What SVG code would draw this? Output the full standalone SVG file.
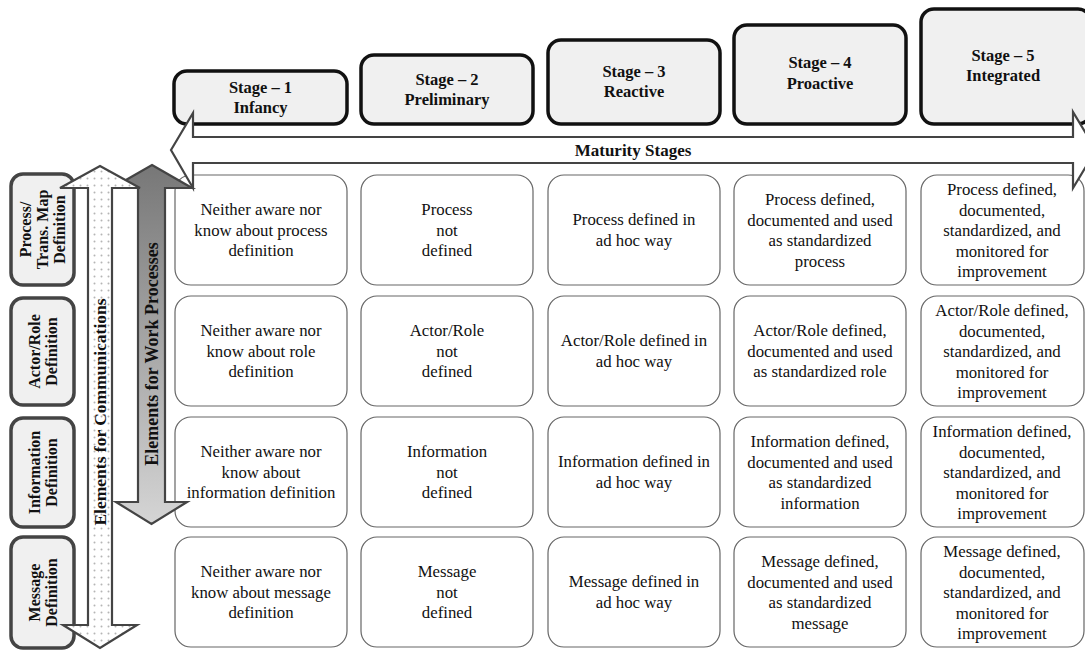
<svg xmlns="http://www.w3.org/2000/svg" width="1085" height="650" viewBox="0 0 1085 650">
<style>
.stage{fill:#f0f0f0;stroke:#111;stroke-width:3.5}
.stt{font-family:'Liberation Serif','DejaVu Serif',serif;font-weight:bold;font-size:16.5px;fill:#111;text-anchor:middle}
.lab{fill:#f0f0f0;stroke:#444;stroke-width:3.5}
.lbt{font-family:'Liberation Serif','DejaVu Serif',serif;font-weight:bold;font-size:16px;fill:#111;text-anchor:middle}
.cell{fill:#fff;stroke:#666;stroke-width:1.2}
.ct{font-family:'Liberation Serif','DejaVu Serif',serif;font-size:16.8px;fill:#111;text-anchor:middle}
.arr{stroke:#444;stroke-width:2.2;stroke-linejoin:miter}
.at{font-family:'Liberation Serif','DejaVu Serif',serif;font-weight:bold;font-size:17.5px;fill:#111;text-anchor:middle}
</style>
<defs>
<pattern id="dots" width="7" height="7" patternUnits="userSpaceOnUse">
<rect width="7" height="7" fill="#fff"/>
<circle cx="3.5" cy="3.5" r="1" fill="#b5b5b5"/>
</pattern>
<linearGradient id="gg" x1="0" y1="0" x2="0" y2="1">
<stop offset="0" stop-color="#777"/>
<stop offset="1" stop-color="#d5d5d5"/>
</linearGradient>
</defs>
<rect width="1085" height="650" fill="#fff"/>

<g id="row-labels">
<g id="lab-process">
<rect class="lab" x="11" y="174" width="63" height="111" rx="12"/>
<text class="lbt" transform="translate(42,229.5) rotate(-90)"><tspan x="0" y="-11.5">Process/</tspan><tspan x="0" y="5.5">Trans. Map</tspan><tspan x="0" y="22.5">Definition</tspan></text>
</g>
<g id="lab-actor">
<rect class="lab" x="11" y="298" width="63" height="107" rx="12"/>
<text class="lbt" transform="translate(43,351.5) rotate(-90)"><tspan x="0" y="-3">Actor/Role</tspan><tspan x="0" y="14">Definition</tspan></text>
</g>
<g id="lab-info">
<rect class="lab" x="11" y="418" width="63" height="109" rx="12"/>
<text class="lbt" transform="translate(43,472.5) rotate(-90)"><tspan x="0" y="-3">Information</tspan><tspan x="0" y="14">Definition</tspan></text>
</g>
<g id="lab-message">
<rect class="lab" x="11" y="537" width="63" height="111" rx="12"/>
<text class="lbt" transform="translate(43,592.5) rotate(-90)"><tspan x="0" y="-3">Message</tspan><tspan x="0" y="14">Definition</tspan></text>
</g>
</g>

<g id="cells">
<g id="c11"><rect class="cell" x="175" y="175" width="172" height="110" rx="16"/>
<text class="ct"><tspan x="261" y="215">Neither aware nor</tspan><tspan x="261" y="235.5">know about process</tspan><tspan x="261" y="256">definition</tspan></text></g>
<g id="c12"><rect class="cell" x="361" y="175" width="172" height="110" rx="16"/>
<text class="ct"><tspan x="447" y="215">Process</tspan><tspan x="447" y="235.5">not</tspan><tspan x="447" y="256">defined</tspan></text></g>
<g id="c13"><rect class="cell" x="548" y="175" width="172" height="110" rx="16"/>
<text class="ct"><tspan x="634" y="225">Process defined in</tspan><tspan x="634" y="245.5">ad hoc way</tspan></text></g>
<g id="c14"><rect class="cell" x="734" y="175" width="172" height="110" rx="16"/>
<text class="ct"><tspan x="820" y="205">Process defined,</tspan><tspan x="820" y="225.5">documented and used</tspan><tspan x="820" y="246">as standardized</tspan><tspan x="820" y="266.5">process</tspan></text></g>
<g id="c15"><rect class="cell" x="921" y="175" width="163" height="110" rx="16"/>
<text class="ct"><tspan x="1002" y="195">Process defined,</tspan><tspan x="1002" y="215.5">documented,</tspan><tspan x="1002" y="236">standardized, and</tspan><tspan x="1002" y="256.5">monitored for</tspan><tspan x="1002" y="277">improvement</tspan></text></g>
<g id="c21"><rect class="cell" x="175" y="296" width="172" height="110" rx="16"/>
<text class="ct"><tspan x="261" y="336">Neither aware nor</tspan><tspan x="261" y="356.5">know about role</tspan><tspan x="261" y="377">definition</tspan></text></g>
<g id="c22"><rect class="cell" x="361" y="296" width="172" height="110" rx="16"/>
<text class="ct"><tspan x="447" y="336">Actor/Role</tspan><tspan x="447" y="356.5">not</tspan><tspan x="447" y="377">defined</tspan></text></g>
<g id="c23"><rect class="cell" x="548" y="296" width="172" height="110" rx="16"/>
<text class="ct"><tspan x="634" y="346">Actor/Role defined in</tspan><tspan x="634" y="366.5">ad hoc way</tspan></text></g>
<g id="c24"><rect class="cell" x="734" y="296" width="172" height="110" rx="16"/>
<text class="ct"><tspan x="820" y="336">Actor/Role defined,</tspan><tspan x="820" y="356.5">documented and used</tspan><tspan x="820" y="377">as standardized role</tspan></text></g>
<g id="c25"><rect class="cell" x="921" y="296" width="163" height="110" rx="16"/>
<text class="ct"><tspan x="1002" y="316">Actor/Role defined,</tspan><tspan x="1002" y="336.5">documented,</tspan><tspan x="1002" y="357">standardized, and</tspan><tspan x="1002" y="377.5">monitored for</tspan><tspan x="1002" y="398">improvement</tspan></text></g>
<g id="c31"><rect class="cell" x="175" y="417" width="172" height="110" rx="16"/>
<text class="ct"><tspan x="261" y="457">Neither aware nor</tspan><tspan x="261" y="477.5">know about</tspan><tspan x="261" y="498">information definition</tspan></text></g>
<g id="c32"><rect class="cell" x="361" y="417" width="172" height="110" rx="16"/>
<text class="ct"><tspan x="447" y="457">Information</tspan><tspan x="447" y="477.5">not</tspan><tspan x="447" y="498">defined</tspan></text></g>
<g id="c33"><rect class="cell" x="548" y="417" width="172" height="110" rx="16"/>
<text class="ct"><tspan x="634" y="467">Information defined in</tspan><tspan x="634" y="487.5">ad hoc way</tspan></text></g>
<g id="c34"><rect class="cell" x="734" y="417" width="172" height="110" rx="16"/>
<text class="ct"><tspan x="820" y="447">Information defined,</tspan><tspan x="820" y="467.5">documented and used</tspan><tspan x="820" y="488">as standardized</tspan><tspan x="820" y="508.5">information</tspan></text></g>
<g id="c35"><rect class="cell" x="921" y="417" width="163" height="110" rx="16"/>
<text class="ct"><tspan x="1002" y="437">Information defined,</tspan><tspan x="1002" y="457.5">documented,</tspan><tspan x="1002" y="478">standardized, and</tspan><tspan x="1002" y="498.5">monitored for</tspan><tspan x="1002" y="519">improvement</tspan></text></g>
<g id="c41"><rect class="cell" x="175" y="537" width="172" height="110" rx="16"/>
<text class="ct"><tspan x="261" y="577">Neither aware nor</tspan><tspan x="261" y="597.5">know about message</tspan><tspan x="261" y="618">definition</tspan></text></g>
<g id="c42"><rect class="cell" x="361" y="537" width="172" height="110" rx="16"/>
<text class="ct"><tspan x="447" y="577">Message</tspan><tspan x="447" y="597.5">not</tspan><tspan x="447" y="618">defined</tspan></text></g>
<g id="c43"><rect class="cell" x="548" y="537" width="172" height="110" rx="16"/>
<text class="ct"><tspan x="634" y="587">Message defined in</tspan><tspan x="634" y="607.5">ad hoc way</tspan></text></g>
<g id="c44"><rect class="cell" x="734" y="537" width="172" height="110" rx="16"/>
<text class="ct"><tspan x="820" y="567">Message defined,</tspan><tspan x="820" y="587.5">documented and used</tspan><tspan x="820" y="608">as standardized</tspan><tspan x="820" y="628.5">message</tspan></text></g>
<g id="c45"><rect class="cell" x="921" y="537" width="163" height="110" rx="16"/>
<text class="ct"><tspan x="1002" y="557">Message defined,</tspan><tspan x="1002" y="577.5">documented,</tspan><tspan x="1002" y="598">standardized, and</tspan><tspan x="1002" y="618.5">monitored for</tspan><tspan x="1002" y="639">improvement</tspan></text></g>
</g>

<g id="stages">
<g id="stage1"><rect class="stage" x="174" y="71" width="173" height="53" rx="13"/>
<text class="stt"><tspan x="260.5" y="93">Stage – 1</tspan><tspan x="260.5" y="113">Infancy</tspan></text></g>
<g id="stage2"><rect class="stage" x="361" y="55" width="172" height="69" rx="13"/>
<text class="stt"><tspan x="447" y="85">Stage – 2</tspan><tspan x="447" y="105">Preliminary</tspan></text></g>
<g id="stage3"><rect class="stage" x="548" y="40" width="172" height="84" rx="13"/>
<text class="stt"><tspan x="634" y="77">Stage – 3</tspan><tspan x="634" y="97">Reactive</tspan></text></g>
<g id="stage4"><rect class="stage" x="734" y="25" width="172" height="99" rx="13"/>
<text class="stt"><tspan x="820" y="68">Stage – 4</tspan><tspan x="820" y="89">Proactive</tspan></text></g>
<g id="stage5"><rect class="stage" x="921" y="9" width="170" height="115" rx="13"/>
<text class="stt"><tspan x="1003" y="61">Stage – 5</tspan><tspan x="1003" y="81">Integrated</tspan></text></g>
</g>

<g id="connectors">
<g id="work-arrow">
<path class="arr" fill="url(#gg)" d="M152,165 L192,188 L165,188 L165,502 L187,502 L151.5,524 L116,502 L138,502 L138,188 L112,188 Z"/>
<text class="at" transform="translate(152,354) rotate(-90)" y="6" style="font-size:18px">Elements for Work Processes</text>
</g>
<g id="comm-arrow">
<path class="arr" fill="url(#dots)" d="M100,166 L140,188 L112,188 L112,625 L137,625 L100,648 L63,625 L88,625 L88,188 L60,188 Z"/>
<text class="at" transform="translate(100,412) rotate(-90)" y="6">Elements for Communications</text>
</g>
<g id="maturity-arrow">
<path class="arr" fill="#fff" stroke="#555" d="M171,150 L193,113 L193,137 L1073,137 L1073,112 L1096,150 L1073,188 L1073,163 L193,163 L193,188 Z"/>
<text class="at" x="633" y="156" style="font-size:17px">Maturity Stages</text>
</g>
</g>
</svg>
